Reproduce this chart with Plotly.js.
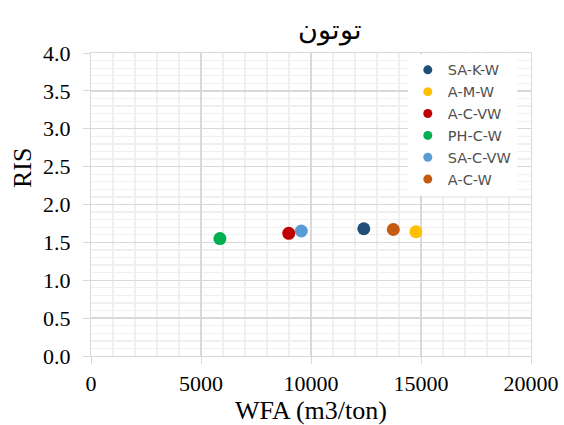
<!DOCTYPE html>
<html>
<head>
<meta charset="utf-8">
<script src="https://cdn.plot.ly/plotly-3.0.1.min.js"></script>
<style>
html,body{margin:0;padding:0;background:#fff;}
#chart{width:564px;height:425px;}
</style>
</head>
<body>
<div id="chart"></div>
<script>
const seriesNames = ["SA-K-W", "A-M-W", "A-C-VW", "PH-C-W", "SA-C-VW", "A-C-W"];
const wfaValues = [12400, 14770, 8990, 5860, 9560, 13740];
const risValues = [1.68, 1.64, 1.62, 1.55, 1.65, 1.67];
const seriesColors = ["#1F4E79", "#FFC000", "#C00000", "#00B050", "#5B9BD5", "#C55A11"];
const xTicks = [0, 5000, 10000, 15000, 20000];
const yTicks = [0, 0.5, 1.0, 1.5, 2.0, 2.5, 3.0, 3.5, 4.0];

const pointTraces = seriesNames.map((name, i) => ({
  type: "scatter",
  mode: "markers",
  name: name,
  legendgroup: name,
  showlegend: false,
  x: [wfaValues[i]],
  y: [risValues[i]],
  marker: {color: seriesColors[i], size: 13}
}));
// legend entries (smaller symbols, as in the reference legend)
const legendTraces = seriesNames.map((name, i) => ({
  type: "scatter",
  mode: "markers",
  name: name,
  legendgroup: name,
  showlegend: true,
  x: [null],
  y: [null],
  marker: {color: seriesColors[i], size: 9}
}));

const serif = "Liberation Serif, Times New Roman, serif";
const layout = {
  width: 564, height: 425,
  margin: {l: 91, r: 32.5, t: 53, b: 69},
  paper_bgcolor: "#fff", plot_bgcolor: "#fff",
  font: {family: serif, color: "#000"},
  title: {text: "توتون", font: {family: serif, size: 27, color: "#000"}, x: 0.585, xanchor: "center", y: 0.93, yanchor: "middle"},
  xaxis: {
    range: [0, 20000], tickvals: xTicks, ticktext: xTicks.map(String),
    showgrid: true, gridcolor: "#d9d9d9", gridwidth: 1.3,
    minor: {dtick: 1000, showgrid: true, gridcolor: "#f0f0f0", gridwidth: 1.3},
    ticks: "outside", ticklen: 7, tickcolor: "#d9d9d9",
    showline: true, linecolor: "#d9d9d9", mirror: true, zeroline: false,
    tickfont: {size: 22, family: serif},
    ticklabelstandoff: 1,
    title: {text: "WFA (m3/ton)", font: {size: 26, family: serif}, standoff: 2}
  },
  yaxis: {
    range: [0, 4], tickvals: yTicks, ticktext: yTicks.map(v => v.toFixed(1)),
    showgrid: true, gridcolor: "#d9d9d9", gridwidth: 1.3,
    minor: {dtick: 0.1, showgrid: true, gridcolor: "#f0f0f0", gridwidth: 1.3},
    ticks: "outside", ticklen: 7, tickcolor: "#d9d9d9",
    showline: true, linecolor: "#d9d9d9", mirror: true, zeroline: false,
    tickfont: {size: 22, family: serif},
    ticklabelstandoff: 8,
    title: {text: ""}
  },
  annotations: [{
    text: "RIS", xref: "paper", yref: "paper", x: -0.157, y: 0.62,
    xanchor: "center", yanchor: "middle", textangle: -90, showarrow: false,
    font: {size: 26, family: serif, color: "#000"}
  }],
  legend: {
    x: 0.72, y: 0.997, xanchor: "left", yanchor: "top",
    bgcolor: "#fff", borderwidth: 0,
    font: {family: "DejaVu Sans, Liberation Sans, sans-serif", size: 14.5, color: "#505050"},
    itemwidth: 30, tracegroupgap: 0, itemsizing: "trace"
  },
  showlegend: true
};

Plotly.newPlot("chart", pointTraces.concat(legendTraces), layout, {displayModeBar: false, staticPlot: true});
</script>
</body>
</html>
